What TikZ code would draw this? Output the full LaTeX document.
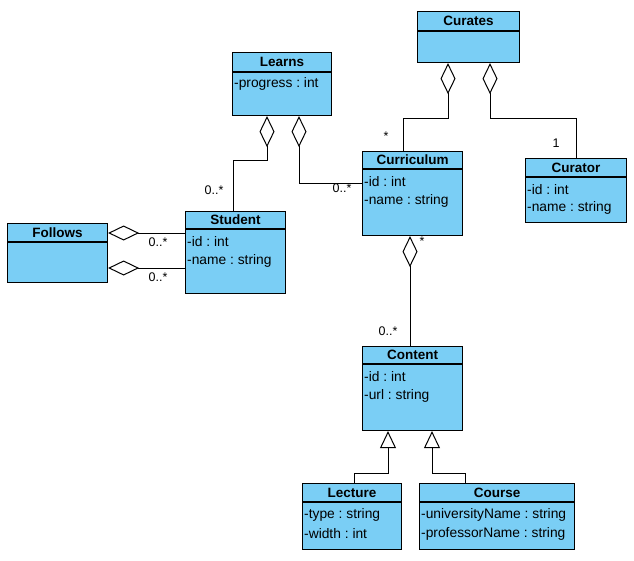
\documentclass[tikz,border=0pt]{standalone}
\usepackage{fontspec}
\setmainfont{Liberation Sans}
\usetikzlibrary{arrows.meta}
\definecolor{classfill}{RGB}{122,206,245}
\frenchspacing
\tikzset{
  classbox/.style={draw=black, fill=classfill, line width=1.1pt, inner sep=0pt, anchor=north west},
  classname/.style={font=\bfseries\fontsize{13.5}{15}\selectfont, inner sep=0pt, anchor=center},
  attr/.style={font=\fontsize{13.8}{15}\selectfont, inner sep=0pt, anchor=west},
  link/.style={draw=black, line width=1pt},
  agg/.style={link, {Diamond[length=31pt, width=15pt, fill=white]}-},
  gen/.style={link, {Triangle[length=17pt, width=16pt, fill=white]}-},
  mult/.style={font=\fontsize{12.5}{14}\selectfont, inner sep=0pt},
}
% \umlclass{name}{x}{y}{width}{height}{header height}{title}
\newcommand\umlclass[7]{%
  \node[classbox, minimum width=#4pt, minimum height=#5pt] (#1) at (#2,#3) {};
  \draw[line width=1.1pt] ([yshift=-#6pt]#1.north west) -- ([yshift=-#6pt]#1.north east);
  \node[classname] (#1-title) at ([yshift={-(#6)/2*1pt}]#1.north) {#7};
}
\begin{document}
\begin{tikzpicture}[x=1pt, y=-1pt]
  \useasboundingbox (0,0) rectangle (634,560);

  % classes
  \umlclass{curates}{417}{11}{102}{51}{20}{Curates}
  \umlclass{learns}{232}{52}{99}{63}{20}{Learns}
  \node[attr] (learns-a1) at (234,84) {-progress : int};

  \umlclass{follows}{7}{223}{100}{59}{19}{Follows}

  \umlclass{student}{185}{211}{100}{82}{18}{Student}
  \node[attr] (student-a1) at (187,242) {-id : int};
  \node[attr] (student-a2) at (187,261) {-name : string};

  \umlclass{curriculum}{362}{151}{100}{84}{18}{Curriculum}
  \node[attr] (curriculum-a1) at (364,182) {-id : int};
  \node[attr] (curriculum-a2) at (364,201) {-name : string};

  \umlclass{curator}{525}{158}{101}{64}{19}{Curator}
  \node[attr] (curator-a1) at (527,190) {-id : int};
  \node[attr] (curator-a2) at (527,208) {-name : string};

  \umlclass{content}{362}{346}{100}{84}{18}{Content}
  \node[attr] (content-a1) at (364,377) {-id : int};
  \node[attr] (content-a2) at (364,396) {-url : string};

  \umlclass{lecture}{302}{483}{99}{66}{19}{Lecture}
  \node[attr] (lecture-a1) at (304,515) {-type : string};
  \node[attr] (lecture-a2) at (304,534) {-width : int};

  \umlclass{course}{419}{483}{155}{66}{19}{Course}
  \node[attr] (course-a1) at (421,515) {-universityName : string};
  \node[attr] (course-a2) at (421,534) {-professorName : string};

  % aggregations
  \draw[agg] ([xshift=31pt]curates.south west) -- ++(0,55) -| ([xshift=41pt]curriculum.north west);
  \draw[agg] ([xshift=73pt]curates.south west) -- ++(0,55) -| (curator.north);
  \draw[agg] ([xshift=35pt]learns.south west) -- ++(0,44) -| ([xshift=48pt]student.north west);
  \draw[agg] ([xshift=67pt]learns.south west) |- ([yshift=-32pt]curriculum.north west);
  \draw[agg] ([yshift=-10pt]follows.north east) -- ([yshift=-22pt]student.north west);
  \draw[agg] ([yshift=-45pt]follows.north east) -- ([yshift=-57pt]student.north west);
  \draw[agg] ([xshift=48pt]curriculum.south west) -- ([xshift=48pt]content.north west);

  % generalizations
  \draw[gen] ([xshift=26pt]content.south west) -- ++(0,42) -| ([xshift=52pt]lecture.north west);
  \draw[gen] ([xshift=70pt]content.south west) -- ++(0,42) -| ([xshift=46pt]course.north west);

  % multiplicities
  \node[mult] (m1) at (386,136) {*};
  \node[mult] (m2) at (556,143) {1};
  \node[mult] (m3) at (214,190) {0..*};
  \node[mult] (m4) at (342,188) {0..*};
  \node[mult] (m5) at (158,242) {0..*};
  \node[mult] (m6) at (158,277) {0..*};
  \node[mult] (m7) at (422,241) {*};
  \node[mult] (m8) at (388,331) {0..*};
\end{tikzpicture}
\end{document}
